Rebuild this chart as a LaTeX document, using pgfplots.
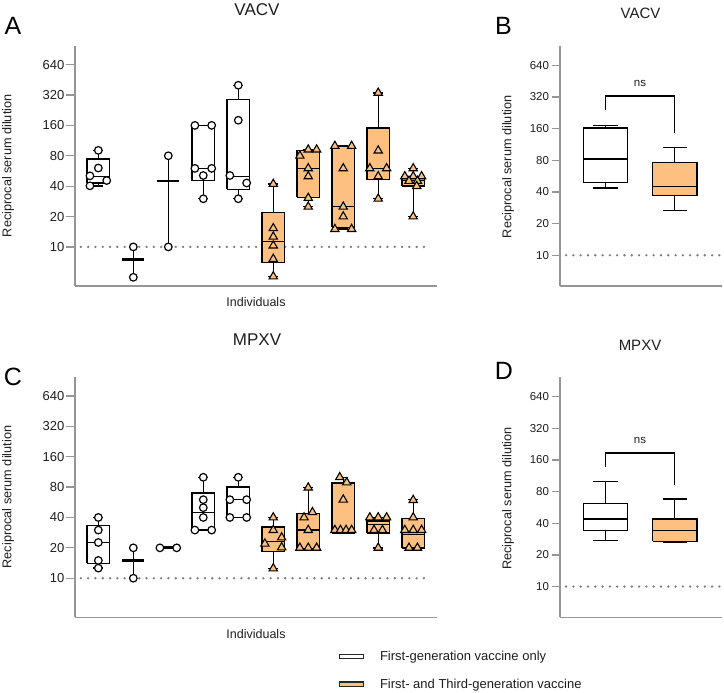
\documentclass[border=0pt]{standalone}
\usepackage{fontspec}
\setmainfont{Liberation Sans}
\usepackage{pgfplots}
\pgfplotsset{compat=1.18}
\definecolor{orangefill}{RGB}{253,192,128}
\definecolor{axgray}{RGB}{150,150,150}
\definecolor{dotgray}{RGB}{125,125,125}
\definecolor{txt}{RGB}{30,30,30}

\pgfplotsset{
  boxline/.style={draw=black, line width=1.4bp, line cap=butt, line join=miter, forget plot},
  dotline/.style={dotgray, line width=2.6bp, line cap=round, dash pattern=on 0bp off 7.3bp, forget plot},
  circ/.style={only marks, mark=*, mark size=3.8bp, mark options={fill=white, draw=black, line width=1.2bp}, forget plot},
  tri/.style={only marks, mark=triangle*, mark size=4.8bp, mark options={fill=orangefill, draw=black, line width=1.1bp}, forget plot},
}

% #1 x, #2 lower whisker, #3 lower quartile, #4 median, #5 upper quartile, #6 upper whisker, #7 fill, #8 half box width, #9 half cap width
\newcommand{\mybox}[9]{%
 \pgfmathsetmacro\boxL{#1-#8}\pgfmathsetmacro\boxR{#1+#8}%
 \pgfmathsetmacro\capL{#1-#9}\pgfmathsetmacro\capR{#1+#9}%
 \addplot[boxline] coordinates {(#1,#2) (#1,#3)};
 \addplot[boxline] coordinates {(#1,#5) (#1,#6)};
 \addplot[boxline] coordinates {(\capL,#2) (\capR,#2)};
 \addplot[boxline] coordinates {(\capL,#6) (\capR,#6)};
 \addplot[boxline, fill=#7] coordinates {(\boxL,#3) (\boxR,#3) (\boxR,#5) (\boxL,#5) (\boxL,#3)};
 \addplot[boxline] coordinates {(\boxL,#4) (\boxR,#4)};
}
% two-value individuals: thick bar at the middle, thin line between the values
\newcommand{\mybar}[5]{%
 \pgfmathsetmacro\boxL{#1-#5}\pgfmathsetmacro\boxR{#1+#5}%
 \addplot[boxline] coordinates {(#1,#2) (#1,#4)};
 \addplot[boxline, line width=2.8bp] coordinates {(\boxL,#3) (\boxR,#3)};
}

\begin{document}
\begin{tikzpicture}
\path[use as bounding box] (0,0) rectangle (724bp,-693bp);

% ---------------- Panel A ----------------
\begin{axis}[at={(75bp,-286bp)}, anchor=south west, scale only axis,
  width=362bp, height=240.5bp, xmin=0.333, xmax=10.68, ymin=4.1, ymax=990,
  ymode=log, log basis y=2,
  axis x line=bottom, axis y line=left,
  axis line style={-, draw=axgray, line width=1.4bp},
  xtick=\empty,
  ytick={10,20,40,80,160,320,640},
  yticklabels={10,20,40,80,160,320,640},
  y tick style={draw=axgray, line width=1.3bp},
  tick align=outside, major tick length=9bp,
  /pgf/number format/assume math mode=true,
  clip=false,
  yticklabel style={font=\fontsize{13bp}{15bp}\selectfont, inner sep=1.5bp, text=txt},
  xlabel={Individuals}, ylabel={Reciprocal serum dilution},
  xlabel style={at={(axis description cs:0.5,0)}, anchor=center, yshift=-16.5bp, font=\fontsize{12.5bp}{14bp}\selectfont, text=txt},
  ylabel style={at={(axis description cs:-0.185,0.5)}, rotate=0, anchor=center, font=\fontsize{12.7bp}{14bp}\selectfont, text=txt},
]
\addplot[dotline] coordinates {(0.5,10) (10.5,10)};
\mybox{1}{40}{42.8}{50}{74}{90}{white}{0.325}{0.14}
\mybar{2}{5}{7.5}{10}{0.31}
\mybar{3}{10}{45}{80}{0.31}
\mybox{4}{30}{45.5}{60}{160}{160}{white}{0.325}{0.14}
\mybox{5}{30}{37.3}{50}{288}{400}{white}{0.325}{0.14}
\mybox{6}{5.1}{7}{11.3}{21.9}{42}{orangefill}{0.325}{0.14}
\mybox{7}{25}{30.9}{60}{90}{92}{orangefill}{0.325}{0.14}
\mybox{8}{15}{15.6}{25}{99}{100}{orangefill}{0.325}{0.14}
\mybox{9}{30}{46.3}{60}{151}{336}{orangefill}{0.325}{0.14}
\mybox{10}{20}{40}{45.3}{50}{60}{orangefill}{0.325}{0.14}
\addplot[circ] coordinates {
 (0.76,40.3) (0.76,50.6) (1,60.5) (1.24,45.5) (1,90.5)
 (2,10) (2,5)
 (3,10) (3,80)
 (3.76,160) (4.24,160) (3.76,60) (4.24,60) (4,51) (4,30)
 (5,400) (5,180) (4.76,51) (5.24,43) (5,30)};
\addplot[tri] coordinates {
 (6,42) (6,15.3) (6,12.6) (6,10.3) (6,7.6) (6,5.1)
 (6.76,80) (7,92) (7.24,92) (7,60) (7,50) (7,30.5) (7,25)
 (7.76,100) (8.24,100) (8,60) (8,25) (8,20) (7.76,15) (8.24,15)
 (9,336) (9,90) (8.76,60) (9.24,60) (9,50) (9,30)
 (10,60) (9.76,50) (10,50) (10.24,50) (9.88,45) (10.12,45) (10.1,40) (10,20)};
\end{axis}

% ---------------- Panel B ----------------
\begin{axis}[at={(560bp,-286bp)}, anchor=south west, scale only axis,
  width=162bp, height=240bp, xmin=0.3425, xmax=2.683, ymin=5.1, ymax=978,
  ymode=log, log basis y=2,
  axis x line=bottom, axis y line=left,
  axis line style={-, draw=axgray, line width=1.4bp},
  xtick=\empty,
  ytick={10,20,40,80,160,320,640},
  yticklabels={10,20,40,80,160,320,640},
  y tick style={draw=axgray, line width=1.3bp},
  tick align=outside, major tick length=8.3bp,
  /pgf/number format/assume math mode=true,
  clip=false,
  yticklabel style={font=\fontsize{11.5bp}{13bp}\selectfont, inner sep=2.5bp, text=txt},
  ylabel={Reciprocal serum dilution},
  ylabel style={at={(axis description cs:-0.321,0.497)}, rotate=0, anchor=center, font=\fontsize{12.7bp}{14bp}\selectfont, text=txt},
]
\addplot[dotline] coordinates {(0.43,10) (2.655,10)};
\mybox{1}{43.6}{49}{82.4}{163}{172}{white}{0.32}{0.175}
\mybox{2}{26.7}{37}{45.2}{76}{106}{orangefill}{0.32}{0.175}
\addplot[black, line width=1.4bp] coordinates {(1,240) (1,326) (2,326) (2,146)};
\end{axis}

% ---------------- Panel C ----------------
\begin{axis}[at={(75bp,-617.3bp)}, anchor=south west, scale only axis,
  width=362bp, height=240.5bp, xmin=0.333, xmax=10.68, ymin=4.1, ymax=990,
  ymode=log, log basis y=2,
  axis x line=bottom, axis y line=left,
  axis line style={-, draw=axgray, line width=1.4bp},
  xtick=\empty,
  ytick={10,20,40,80,160,320,640},
  yticklabels={10,20,40,80,160,320,640},
  y tick style={draw=axgray, line width=1.3bp},
  tick align=outside, major tick length=9bp,
  /pgf/number format/assume math mode=true,
  clip=false,
  yticklabel style={font=\fontsize{13bp}{15bp}\selectfont, inner sep=1.5bp, text=txt},
  xlabel={Individuals}, ylabel={Reciprocal serum dilution},
  xlabel style={at={(axis description cs:0.5,0)}, anchor=center, yshift=-16.5bp, font=\fontsize{12.5bp}{14bp}\selectfont, text=txt},
  ylabel style={at={(axis description cs:-0.185,0.5)}, rotate=0, anchor=center, font=\fontsize{12.7bp}{14bp}\selectfont, text=txt},
  legend style={at={(axis description cs:0.729,-0.140)}, anchor=north west, draw=none, fill=none,
    inner sep=0pt, outer sep=0pt, row sep=16.7bp,
    nodes={inner sep=0pt, font=\fontsize{13bp}{15bp}\selectfont, text=txt}},
  legend cell align=left,
  legend image code/.code={\draw[#1, line width=1.1bp] (0bp,-2bp) rectangle (24bp,2bp);},
]
\addplot[dotline] coordinates {(0.5,10) (10.5,10)};
\mybox{1}{12.6}{14}{22.6}{33.3}{40}{white}{0.325}{0.14}
\mybar{2}{10}{15}{20}{0.31}
\mybar{3}{20}{20}{20}{0.31}
\mybox{4}{30}{30}{44.8}{70}{100}{white}{0.325}{0.14}
\mybox{5}{40}{40}{60}{80}{100}{white}{0.325}{0.14}
\mybox{6}{12.5}{18.3}{23}{32.3}{40}{orangefill}{0.325}{0.14}
\mybox{7}{19.5}{19.5}{30}{44}{79}{orangefill}{0.325}{0.14}
\mybox{8}{28}{28}{28}{88}{100}{orangefill}{0.325}{0.14}
\mybox{9}{20}{28}{34}{37}{40}{orangefill}{0.325}{0.14}
\mybox{10}{20}{20}{27.3}{39}{60}{orangefill}{0.325}{0.14}
\addplot[circ] coordinates {
 (1,40) (1,30) (1,22.6) (1,15) (1,12.6)
 (2,20) (2,10)
 (2.76,20) (3.24,20)
 (4,100) (4,60) (4,50) (4,40) (3.76,30) (4.24,30)
 (5,100) (4.76,60) (5.24,60) (4.76,40) (5.24,40)};
\addplot[tri] coordinates {
 (6,40) (6,30) (6.24,25.3) (5.76,22) (6.24,20.2) (6,12.5)
 (7,79) (7.12,45) (6.88,40) (7,30) (6.76,20) (7,20) (7.24,20)
 (7.9,100) (8.1,89) (8,60) (7.76,30) (7.92,30) (8.08,30) (8.24,30)
 (8.76,40) (9,40) (9.24,40) (8.88,30) (9.12,30) (9,20)
 (10,59.5) (10,40) (9.76,30) (10,30) (10.24,30) (9.88,20) (10.12,20)};
\addlegendimage{draw=black!85, fill=white}
\addlegendentry{\hspace{16bp}First-generation vaccine only}
\addlegendimage{draw=black!85, fill=orangefill}
\addlegendentry{\hspace{16bp}First- and Third-generation vaccine}
\end{axis}

% ---------------- Panel D ----------------
\begin{axis}[at={(560bp,-617.3bp)}, anchor=south west, scale only axis,
  width=162bp, height=240bp, xmin=0.3425, xmax=2.683, ymin=5.1, ymax=978,
  ymode=log, log basis y=2,
  axis x line=bottom, axis y line=left,
  axis line style={-, draw=axgray, line width=1.4bp},
  xtick=\empty,
  ytick={10,20,40,80,160,320,640},
  yticklabels={10,20,40,80,160,320,640},
  y tick style={draw=axgray, line width=1.3bp},
  tick align=outside, major tick length=8.3bp,
  /pgf/number format/assume math mode=true,
  clip=false,
  yticklabel style={font=\fontsize{11.5bp}{13bp}\selectfont, inner sep=2.5bp, text=txt},
  ylabel={Reciprocal serum dilution},
  ylabel style={at={(axis description cs:-0.321,0.495)}, rotate=0, anchor=center, font=\fontsize{12.7bp}{14bp}\selectfont, text=txt},
]
\addplot[dotline] coordinates {(0.43,10) (2.655,10)};
\mybox{1}{27.6}{34}{44}{61.5}{99.6}{white}{0.32}{0.175}
\mybox{2}{26.4}{27}{34}{44}{68}{orangefill}{0.32}{0.175}
\addplot[black, line width=1.4bp] coordinates {(1,136.5) (1,186.6) (2,186.6) (2,92.6)};
\end{axis}

% titles, panel letters, ns
\node[font=\fontsize{17bp}{19bp}\selectfont, text=txt] at (257bp,-10bp) {VACV};
\node[font=\fontsize{17bp}{19bp}\selectfont, text=txt] at (257bp,-340bp) {MPXV};
\node[font=\fontsize{15bp}{17bp}\selectfont, text=txt] at (640.5bp,-13bp) {VACV};
\node[font=\fontsize{15bp}{17bp}\selectfont, text=txt] at (640bp,-345bp) {MPXV};
\node[font=\fontsize{25bp}{27bp}\selectfont] at (13bp,-25.5bp) {A};
\node[font=\fontsize{25bp}{27bp}\selectfont] at (503.5bp,-25.7bp) {B};
\node[font=\fontsize{25bp}{27bp}\selectfont] at (13bp,-377bp) {C};
\node[font=\fontsize{25bp}{27bp}\selectfont] at (504bp,-371bp) {D};
\node[font=\fontsize{11.5bp}{13bp}\selectfont, text=txt] at (640bp,-83bp) {ns};
\node[font=\fontsize{11.5bp}{13bp}\selectfont, text=txt] at (640bp,-440bp) {ns};
\end{tikzpicture}
\end{document}
